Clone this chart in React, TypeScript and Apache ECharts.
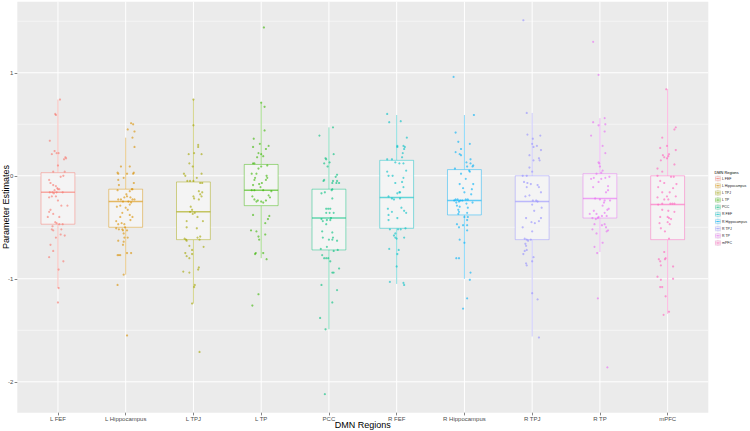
import React, { useEffect, useRef } from "react";
import * as echarts from "echarts";

const categories = ["L FEF", "L Hippocampus", "L TPJ", "L TP", "PCC", "R FEF", "R Hippocampus", "R TPJ", "R TP", "mPFC"];
const colors = ["#F8766D", "#D89000", "#A3A500", "#39B600", "#00BF7D", "#00BFC4", "#00B0F6", "#9590FF", "#E76BF3", "#FF62BC"];

const whiskerLow = [-1.09, -0.96, -1.24, -0.8, -1.49, -1.05, -1.0, -1.56, -0.74, -1.34];
const q1 = [-0.47, -0.5, -0.62, -0.29, -0.72, -0.51, -0.38, -0.62, -0.41, -0.62];
const medians = [-0.16, -0.25, -0.35, -0.14, -0.41, -0.21, -0.24, -0.25, -0.22, -0.28];
const q3 = [0.03, -0.13, -0.06, 0.11, -0.13, 0.15, 0.06, 0.0, 0.02, 0.0];
const whiskerHigh = [0.74, 0.37, 0.74, 0.71, 0.47, 0.59, 0.59, 0.61, 0.56, 0.84];

const yMajorTicks = [-2, -1, 0, 1];
const yMinorTicks = [-1.5, -0.5, 0.5, 1.5];

// [horizontal jitter, parameter estimate]
const lFEF = [[0.03,0.74],[-0.04,0.6],[-0.03,0.59],[-0.12,0.34],[-0.05,0.24],[-0.09,0.21],[-0.02,0.22],[0.01,0.22],[0.11,0.18],[0.12,0.17],[0.09,0.16],[0,0.1],[-0.07,0.04],[0.1,0.04],[0.04,-0.01],[0.08,0],[-0.13,-0.04],[-0.11,-0.07],[-0.07,-0.09],[-0.03,-0.1],[-0.01,-0.12],[0,-0.13],[-0.05,-0.14],[0.02,-0.13],[-0.12,-0.16],[-0.08,-0.16],[-0.06,-0.17],[-0.02,-0.16],[0.07,-0.16],[-0.13,-0.21],[-0.09,-0.2],[-0.03,-0.2],[0,-0.24],[-0.11,-0.33],[-0.13,-0.35],[-0.07,-0.37],[0.05,-0.29],[0.14,-0.29],[-0.15,-0.4],[0.02,-0.4],[-0.04,-0.45],[-0.02,-0.46],[0.02,-0.47],[0.07,-0.47],[-0.08,-0.49],[-0.09,-0.52],[-0.07,-0.53],[0.05,-0.52],[0.04,-0.57],[0.1,-0.58],[-0.03,-0.6],[-0.11,-0.67],[-0.07,-0.73],[-0.13,-0.79],[0.08,-0.83],[0.01,-0.91],[0.01,-1.09],[0,-1.23]];
const lHippocampus = [[0.08,0.51],[0.11,0.5],[0.03,0.45],[0.13,0.43],[0.1,0.37],[0.13,0.28],[-0.07,0.09],[0.06,0.09],[0.12,0.03],[0.11,0.02],[0.02,0.02],[-0.12,0.03],[-0.11,0.02],[-0.11,-0.04],[-0.03,-0.02],[0.12,-0.07],[-0.12,-0.14],[-0.1,-0.09],[0.09,-0.13],[0.1,-0.13],[0.06,-0.15],[0.01,-0.18],[-0.02,-0.21],[0.02,-0.2],[0.07,-0.21],[0.1,-0.23],[0.13,-0.23],[-0.07,-0.23],[-0.11,-0.23],[0.04,-0.25],[0.08,-0.26],[-0.04,-0.25],[0.06,-0.28],[-0.08,-0.29],[-0.13,-0.3],[0,-0.31],[0.03,-0.33],[-0.05,-0.36],[0.06,-0.38],[0.1,-0.4],[-0.08,-0.4],[-0.14,-0.44],[-0.06,-0.46],[-0.02,-0.47],[-0.11,-0.47],[-0.05,-0.52],[-0.04,-0.53],[-0.01,-0.5],[0.07,-0.43],[-0.14,-0.51],[-0.1,-0.52],[0.02,-0.53],[-0.03,-0.56],[-0.02,-0.6],[-0.11,-0.63],[0.03,-0.6],[-0.03,-0.64],[-0.04,-0.67],[-0.12,-0.77],[-0.1,-0.77],[-0.08,-0.77],[0.08,-0.75],[0.02,-0.75],[-0.03,-0.96],[-0.12,-1.06],[0.02,-1.55]];
const lTPJ = [[0,0.74],[0,0.49],[0.07,0.3],[0.07,0.28],[-0.07,0.21],[0.01,0.22],[0.12,0.21],[-0.06,0.12],[-0.01,0.09],[-0.14,0.02],[-0.12,0],[0.05,-0.02],[0.12,0.02],[0,-0.05],[-0.09,-0.05],[-0.05,-0.05],[0.1,-0.07],[0.13,-0.07],[0.08,-0.15],[0.13,-0.16],[0.1,-0.18],[0.12,-0.2],[0,-0.2],[0.01,-0.22],[0.08,-0.23],[-0.04,-0.3],[-0.02,-0.33],[-0.05,-0.35],[0.02,-0.36],[-0.01,-0.37],[0.06,-0.4],[-0.1,-0.44],[0.14,-0.44],[-0.1,-0.5],[0.05,-0.51],[-0.13,-0.61],[-0.11,-0.62],[-0.1,-0.63],[0.06,-0.6],[0.1,-0.59],[0.09,-0.62],[-0.06,-0.68],[0.15,-0.69],[-0.02,-0.72],[-0.12,-0.75],[-0.1,-0.78],[-0.06,-0.8],[-0.02,-0.76],[0.08,-0.89],[0.07,-0.91],[-0.15,-0.93],[-0.06,-0.94],[0.02,-1.06],[0.01,-1.08],[-0.02,-1.24],[0.09,-1.71]];
const lTP = [[0.04,1.44],[0,0.71],[0.05,0.67],[0.05,0.44],[-0.11,0.36],[-0.02,0.31],[-0.12,0.28],[0.11,0.29],[0.07,0.26],[-0.04,0.22],[0,0.21],[0.03,0.19],[-0.06,0.18],[-0.12,0.12],[-0.1,0.12],[0.09,0.1],[0,0.09],[-0.04,0.07],[-0.14,0.02],[-0.07,0.02],[-0.09,-0.02],[-0.1,-0.04],[0.08,0],[0.09,-0.02],[0.07,-0.04],[0.01,-0.07],[-0.12,-0.09],[-0.03,-0.08],[-0.01,-0.11],[-0.14,-0.14],[-0.1,-0.14],[0.03,-0.14],[0.15,-0.15],[0.11,-0.19],[-0.13,-0.2],[-0.1,-0.23],[0.13,-0.21],[-0.05,-0.24],[-0.07,-0.25],[0,-0.25],[0.03,-0.26],[0.07,-0.24],[-0.12,-0.38],[0.12,-0.39],[0.1,-0.42],[0.06,-0.46],[-0.15,-0.53],[-0.07,-0.54],[-0.04,-0.59],[-0.03,-0.62],[0.06,-0.57],[-0.09,-0.76],[-0.08,-0.75],[0.03,-0.75],[0.08,-0.81],[-0.04,-1.15],[-0.13,-1.26]];
const pcc = [[0.06,0.47],[-0.14,0.39],[0.07,0.21],[-0.05,0.17],[-0.04,0.16],[-0.07,0.12],[0.01,0.13],[-0.02,0.09],[0.12,0.01],[0.1,-0.01],[0.06,-0.05],[0.05,-0.07],[-0.07,-0.04],[-0.08,-0.05],[0.12,-0.05],[0.11,-0.07],[0.15,-0.07],[0.05,-0.13],[0.04,-0.14],[-0.06,-0.16],[-0.11,-0.17],[0.05,-0.22],[-0.04,-0.32],[-0.01,-0.32],[0.02,-0.32],[0.01,-0.36],[-0.04,-0.36],[0.07,-0.36],[-0.11,-0.42],[-0.09,-0.44],[-0.03,-0.43],[0.02,-0.43],[0.03,-0.41],[-0.04,-0.47],[-0.1,-0.54],[0.05,-0.55],[-0.09,-0.6],[0.06,-0.6],[0.05,-0.62],[0,-0.62],[0.12,-0.63],[-0.12,-0.71],[-0.03,-0.69],[0.07,-0.73],[0.13,-0.72],[-0.1,-0.77],[-0.07,-0.8],[-0.04,-0.8],[-0.01,-0.8],[0.02,-0.83],[0.05,-0.94],[0.07,-0.94],[0.15,-0.9],[-0.11,-1.06],[0.12,-1.11],[0.05,-1.23],[-0.13,-1.38],[-0.05,-1.49],[-0.06,-2.12]];
const rFEF = [[-0.14,0.6],[-0.11,0.52],[0.06,0.53],[0.15,0.37],[0.01,0.29],[0.01,0.28],[0.1,0.29],[0.12,0.28],[0.11,0.26],[0.09,0.22],[0.08,0.18],[-0.14,0.16],[-0.07,0.16],[-0.02,0.13],[0.04,0.12],[0.1,0.12],[0.14,0.05],[-0.14,0.04],[-0.12,0],[-0.06,0],[-0.02,-0.07],[0.08,-0.06],[0.1,-0.02],[0.1,-0.11],[0.04,-0.16],[0.01,-0.17],[0.05,-0.16],[-0.12,-0.2],[-0.07,-0.22],[-0.04,-0.23],[0.05,-0.22],[0.07,-0.31],[-0.13,-0.32],[-0.07,-0.35],[0.11,-0.34],[0.14,-0.36],[-0.12,-0.38],[-0.12,-0.43],[0.01,-0.41],[-0.1,-0.52],[0.02,-0.52],[0.06,-0.52],[0.13,-0.51],[-0.02,-0.56],[-0.04,-0.58],[-0.02,-0.6],[0,-0.61],[0.11,-0.6],[-0.11,-0.71],[0.03,-0.72],[0.01,-0.76],[0,-0.88],[-0.1,-1.03],[0.1,-1.04],[0.11,-1.06]];
const rHippocampus = [[-0.16,0.96],[0.14,0.59],[-0.13,0.42],[-0.09,0.33],[0.08,0.31],[-0.05,0.26],[-0.13,0.23],[-0.07,0.21],[-0.05,0.2],[0.09,0.16],[0.03,0.13],[0.09,0.12],[0.13,0.1],[0.12,0.09],[0.04,0.09],[-0.14,0.07],[0.07,0.05],[0.08,0.04],[-0.05,0.02],[0.02,-0.03],[-0.07,-0.08],[0.13,-0.08],[-0.02,-0.12],[0.11,-0.13],[0,-0.16],[0.1,-0.18],[-0.13,-0.23],[-0.15,-0.24],[-0.1,-0.23],[-0.06,-0.24],[-0.03,-0.24],[0.02,-0.23],[0.05,-0.23],[-0.12,-0.26],[-0.08,-0.25],[0.12,-0.26],[0.03,-0.27],[-0.11,-0.29],[-0.07,-0.3],[0.05,-0.31],[-0.09,-0.33],[-0.08,-0.35],[0.04,-0.36],[-0.09,-0.37],[0,-0.4],[0.05,-0.4],[0.04,-0.43],[-0.11,-0.47],[-0.08,-0.5],[0.04,-0.48],[-0.02,-0.48],[0.04,-0.53],[-0.07,-0.62],[0,-0.65],[-0.12,-0.8],[-0.08,-0.8],[0.09,-0.94],[0.08,-1.01],[0.04,-1.19],[-0.02,-1.29]];
const rTPJ = [[-0.13,1.51],[-0.08,0.61],[-0.07,0.4],[0.12,0.39],[0.01,0.36],[0.07,0.29],[0,0.31],[0.02,0.28],[0.13,0.25],[-0.04,0.2],[0.1,0.17],[0.02,0.15],[0.11,0.15],[-0.04,0.08],[0,0.04],[-0.14,0],[-0.08,0],[-0.12,-0.06],[-0.07,-0.07],[-0.02,-0.08],[-0.08,-0.11],[-0.1,-0.2],[-0.04,-0.19],[0.08,-0.09],[0.1,-0.11],[0.13,-0.16],[0.01,-0.24],[0.06,-0.24],[0.08,-0.25],[0,-0.28],[0.14,-0.31],[0.03,-0.34],[-0.09,-0.41],[-0.01,-0.45],[0.04,-0.46],[0.13,-0.41],[0.1,-0.44],[0,-0.54],[-0.14,-0.5],[-0.11,-0.61],[-0.08,-0.62],[-0.06,-0.63],[-0.02,-0.62],[-0.1,-0.66],[-0.09,-0.68],[-0.11,-0.73],[-0.13,-0.76],[-0.08,-0.72],[0.02,-0.79],[0,-0.83],[-0.09,-0.85],[-0.08,-0.87],[0,-1.14],[0.08,-1.2],[0.1,-1.57]];
const rTP = [[-0.1,1.3],[-0.02,0.98],[0.07,0.56],[-0.1,0.52],[-0.02,0.49],[0.08,0.5],[-0.13,0.39],[0.07,0.43],[0.04,0.29],[0.08,0.22],[-0.02,0.13],[-0.01,0.12],[0,0.09],[0.04,0.05],[0.02,0.03],[-0.05,0.02],[-0.13,-0.03],[-0.09,-0.02],[0.02,-0.03],[0.08,-0.02],[0.14,-0.01],[-0.02,-0.06],[-0.1,-0.11],[0.12,-0.1],[0.12,-0.14],[0.09,-0.16],[-0.07,-0.22],[0,-0.23],[0.07,-0.24],[0.06,-0.26],[0.15,-0.24],[0.04,-0.29],[0.13,-0.32],[0.11,-0.33],[0.07,-0.36],[-0.09,-0.34],[-0.15,-0.37],[-0.05,-0.37],[-0.11,-0.41],[-0.06,-0.42],[-0.03,-0.41],[0.03,-0.39],[-0.02,-0.4],[0.1,-0.39],[-0.08,-0.47],[0.07,-0.47],[0.03,-0.48],[0.09,-0.5],[-0.11,-0.52],[-0.05,-0.56],[0.1,-0.54],[0.12,-0.53],[0.04,-0.65],[-0.08,-0.69],[-0.04,-0.75],[-0.03,-1.19],[0.11,-1.86]];
const mPFC = [[-0.02,0.84],[0.12,0.47],[0.1,0.45],[-0.08,0.37],[-0.01,0.29],[-0.11,0.27],[0.12,0.25],[0.02,0.21],[-0.07,0.2],[0.01,0.19],[-0.05,0.18],[-0.01,0.17],[-0.1,0.15],[0.1,0.11],[-0.15,0.07],[-0.08,0.04],[-0.15,0],[0.05,-0.01],[0.09,-0.01],[-0.11,-0.05],[-0.05,-0.07],[0.13,-0.08],[-0.14,-0.11],[0.08,-0.12],[-0.08,-0.16],[0.03,-0.16],[-0.01,-0.2],[-0.15,-0.21],[0.12,-0.2],[0.01,-0.23],[-0.05,-0.23],[-0.08,-0.27],[0.04,-0.27],[0.07,-0.27],[0.1,-0.27],[-0.14,-0.28],[-0.08,-0.33],[0.01,-0.34],[0.1,-0.35],[-0.11,-0.4],[0,-0.4],[0.02,-0.41],[0.05,-0.42],[-0.12,-0.46],[0,-0.45],[0.03,-0.47],[-0.04,-0.54],[-0.1,-0.51],[0.02,-0.61],[-0.05,-0.74],[-0.13,-0.81],[-0.11,-0.83],[-0.04,-0.81],[-0.03,-0.8],[-0.1,-0.87],[0.08,-0.88],[-0.15,-0.98],[-0.1,-1.01],[0.08,-1.0],[-0.11,-1.08],[-0.08,-1.08],[-0.03,-1.17],[-0.06,-1.35],[0.02,-1.32]];

const groupPoints = [lFEF, lHippocampus, lTPJ, lTP, pcc, rFEF, rHippocampus, rTPJ, rTP, mPFC];

function rgba(hex: string, a: number) {
  const n = parseInt(hex.slice(1), 16);
  return `rgba(${(n >> 16) & 255},${(n >> 8) & 255},${n & 255},${a})`;
}

const X_MIN = -0.6;
const X_MAX = 9.6;
const Y_MIN = -2.3;
const Y_MAX = 1.69;
const FONT = "Liberation Sans, Arial, sans-serif";

export default function App() {
  const ref = useRef<HTMLDivElement>(null);
  useEffect(() => {
    if (!ref.current) return;
    const chart = echarts.init(ref.current, undefined, { renderer: "svg" });

    const hLines: number[][] = [];
    yMajorTicks.forEach((v) => hLines.push([X_MIN, v, 1]));
    yMinorTicks.forEach((v) => hLines.push([X_MIN, v, 0.5]));
    const vLines: number[][] = categories.map((_, i) => [i, Y_MIN, 1]);

    const boxData = categories.map((_, i) => [i, whiskerLow[i], q1[i], medians[i], q3[i], whiskerHigh[i]]);

    const legendChildren: any[] = [
      { type: "text", x: 714.5, y: 172, style: { text: "DMN Regions", fontSize: 3.9, fill: "#000", verticalAlign: "middle", fontFamily: FONT } },
    ];
    categories.forEach((c, i) => {
      const yc = 178.6 + 7.15 * i;
      const col = colors[i];
      legendChildren.push(
        { type: "rect", shape: { x: 714.8, y: yc - 3, width: 6.2, height: 6 }, style: { fill: "#F2F2F2" } },
        { type: "line", shape: { x1: 717.9, y1: yc - 3, x2: 717.9, y2: yc + 3 }, style: { stroke: rgba(col, 0.55), lineWidth: 0.5 } },
        { type: "rect", shape: { x: 715.5, y: yc - 1.8, width: 4.8, height: 3.6 }, style: { fill: "#F7F7F7", stroke: rgba(col, 0.55), lineWidth: 0.5 } },
        { type: "line", shape: { x1: 715.5, y1: yc, x2: 720.3, y2: yc }, style: { stroke: rgba(col, 0.7), lineWidth: 0.7 } },
        { type: "circle", shape: { cx: 717.9, cy: yc, r: 0.6 }, style: { fill: rgba(col, 0.8) } },
        { type: "text", x: 722, y: yc, style: { text: c, fontSize: 3.5, fill: "#1A1A1A", verticalAlign: "middle", fontFamily: FONT } }
      );
    });

    const option: any = {
      animation: false,
      backgroundColor: "#FFFFFF",
      color: colors,
      textStyle: { fontFamily: FONT },
      grid: {
        left: 17.3,
        right: 41.7,
        top: 1.7,
        bottom: 18.3,
        show: true,
        backgroundColor: "#EBEBEB",
        borderWidth: 0,
        outerBoundsMode: "none",
        containLabel: false,
      },
      xAxis: {
        type: "value",
        min: X_MIN,
        max: X_MAX,
        axisLine: { show: false, onZero: false },
        splitLine: { show: false },
        axisTick: { show: true, length: 2.7, lineStyle: { color: "#333333", width: 0.6 }, customValues: categories.map((_, i) => i) },
        axisLabel: {
          customValues: categories.map((_, i) => i),
          formatter: (v: number) => categories[Math.round(v)] ?? "",
          fontSize: 6,
          color: "#4D4D4D",
          margin: 3.5,
        },
      },
      yAxis: {
        type: "value",
        min: Y_MIN,
        max: Y_MAX,
        axisLine: { show: false, onZero: false },
        splitLine: { show: false },
        axisTick: { show: true, length: 2.7, lineStyle: { color: "#333333", width: 0.6 }, customValues: yMajorTicks },
        axisLabel: { show: true, customValues: yMajorTicks, fontSize: 6, color: "#4D4D4D", margin: 4 },
      },
      series: [
        {
          type: "custom",
          name: "hgrid",
          z: 0,
          silent: true,
          data: hLines,
          renderItem: (params: any, api: any) => {
            const v = api.value(1);
            const p1 = api.coord([X_MIN, v]);
            const p2 = api.coord([X_MAX, v]);
            return {
              type: "line",
              shape: { x1: p1[0], y1: p1[1], x2: p2[0], y2: p2[1] },
              style: { stroke: "#FFFFFF", lineWidth: api.value(2) },
            };
          },
        },
        {
          type: "custom",
          name: "vgrid",
          z: 0,
          silent: true,
          data: vLines,
          renderItem: (params: any, api: any) => {
            const v = api.value(0);
            const p1 = api.coord([v, Y_MIN]);
            const p2 = api.coord([v, Y_MAX]);
            return {
              type: "line",
              shape: { x1: p1[0], y1: p1[1], x2: p2[0], y2: p2[1] },
              style: { stroke: "#FFFFFF", lineWidth: api.value(2) },
            };
          },
        },
        {
          type: "custom",
          name: "boxes",
          z: 1,
          silent: true,
          data: boxData,
          renderItem: (params: any, api: any) => {
            const i = api.value(0);
            const col = colors[i];
            const lo = api.coord([i, api.value(1)]);
            const b1 = api.coord([i, api.value(2)]);
            const md = api.coord([i, api.value(3)]);
            const b3 = api.coord([i, api.value(4)]);
            const hi = api.coord([i, api.value(5)]);
            const left = api.coord([i - 0.25, 0])[0];
            const right = api.coord([i + 0.25, 0])[0];
            const lineCol = rgba(col, 0.45);
            return {
              type: "group",
              children: [
                { type: "line", shape: { x1: lo[0], y1: b1[1], x2: lo[0], y2: lo[1] }, style: { stroke: lineCol, lineWidth: 1 } },
                { type: "line", shape: { x1: hi[0], y1: b3[1], x2: hi[0], y2: hi[1] }, style: { stroke: lineCol, lineWidth: 1 } },
                { type: "rect", shape: { x: left, y: b3[1], width: right - left, height: b1[1] - b3[1] }, style: { fill: "#F4F4F4", stroke: lineCol, lineWidth: 1 } },
                { type: "line", shape: { x1: left, y1: md[1], x2: right, y2: md[1] }, style: { stroke: rgba(col, 0.6), lineWidth: 1.5 } },
              ],
            };
          },
        },
        ...groupPoints.map((pts, i) => ({
          type: "scatter",
          name: categories[i],
          z: 2,
          silent: true,
          symbol: "circle",
          symbolSize: 2.2,
          itemStyle: { color: rgba(colors[i], 0.75) },
          data: pts.map(([dx, v]) => [i + dx, v]),
        })),
      ],
      graphic: {
        elements: [
          ...legendChildren,
          { type: "text", x: 5.5, y: 207, rotation: Math.PI / 2, style: { text: "Parameter Estimates", fontSize: 9, fill: "#000", align: "center", verticalAlign: "middle", fontFamily: FONT } },
          { type: "text", x: 362.8, y: 425, style: { text: "DMN Regions", fontSize: 9, fill: "#000", align: "center", verticalAlign: "middle", fontFamily: FONT } },
        ],
      },
    };
    chart.setOption(option);
    return () => chart.dispose();
  }, []);
  return <div ref={ref} style={{ position: "fixed", left: 0, top: 0, width: 750, height: 431 }} />;
}
